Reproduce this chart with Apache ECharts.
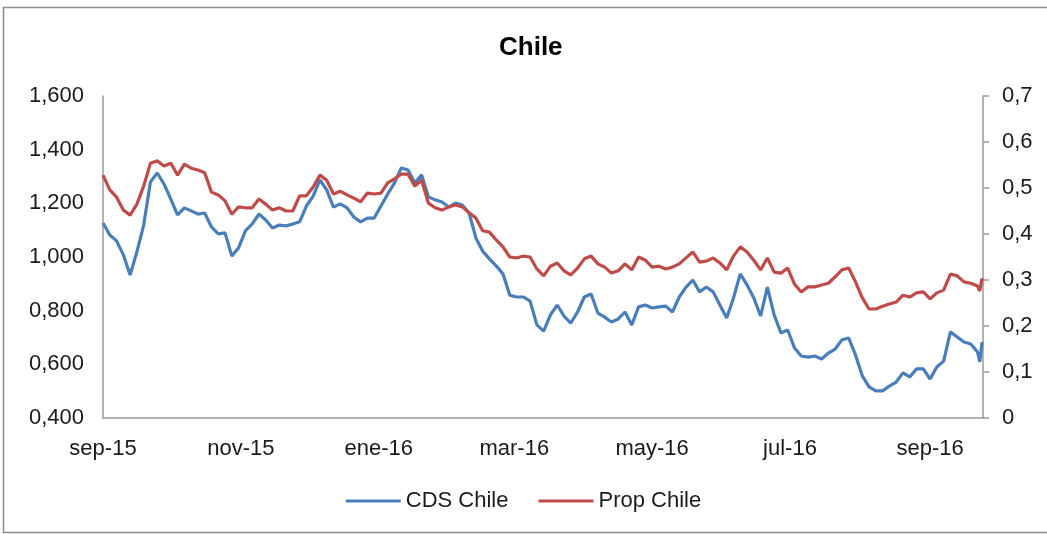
<!DOCTYPE html>
<html>
<head>
<meta charset="utf-8">
<title>Chile</title>
<script src="https://cdn.jsdelivr.net/npm/echarts@6/dist/echarts.min.js"></script>
<style>
  html, body { margin: 0; padding: 0; background: #ffffff; }
  #chart { width: 1047px; height: 534px; }
</style>
</head>
<body>
<div id="chart"></div>
<script>
// Observation dates (every three days, plus the last two sessions)
const dates = [
  '2015-09-01','2015-09-04','2015-09-07','2015-09-10','2015-09-13','2015-09-16','2015-09-19','2015-09-22','2015-09-25','2015-09-28',
  '2015-10-01','2015-10-04','2015-10-07','2015-10-10','2015-10-13','2015-10-16','2015-10-19','2015-10-22','2015-10-25','2015-10-28',
  '2015-10-31','2015-11-03','2015-11-06','2015-11-09','2015-11-12','2015-11-15','2015-11-18','2015-11-21','2015-11-24','2015-11-27',
  '2015-11-30','2015-12-03','2015-12-06','2015-12-09','2015-12-12','2015-12-15','2015-12-18','2015-12-21','2015-12-24','2015-12-27',
  '2015-12-30','2016-01-02','2016-01-05','2016-01-08','2016-01-11','2016-01-14','2016-01-17','2016-01-20','2016-01-23','2016-01-26',
  '2016-01-29','2016-02-01','2016-02-04','2016-02-07','2016-02-10','2016-02-13','2016-02-16','2016-02-19','2016-02-22','2016-02-25',
  '2016-02-28','2016-03-02','2016-03-05','2016-03-08','2016-03-11','2016-03-14','2016-03-17','2016-03-20','2016-03-23','2016-03-26',
  '2016-03-29','2016-04-01','2016-04-04','2016-04-07','2016-04-10','2016-04-13','2016-04-16','2016-04-19','2016-04-22','2016-04-25',
  '2016-04-28','2016-05-01','2016-05-04','2016-05-07','2016-05-10','2016-05-13','2016-05-16','2016-05-19','2016-05-22','2016-05-25',
  '2016-05-28','2016-05-31','2016-06-03','2016-06-06','2016-06-09','2016-06-12','2016-06-15','2016-06-18','2016-06-21','2016-06-24',
  '2016-06-27','2016-06-30','2016-07-03','2016-07-06','2016-07-09','2016-07-12','2016-07-15','2016-07-18','2016-07-21','2016-07-24',
  '2016-07-27','2016-07-30','2016-08-02','2016-08-05','2016-08-08','2016-08-11','2016-08-14','2016-08-17','2016-08-20','2016-08-23',
  '2016-08-26','2016-08-29','2016-09-01','2016-09-04','2016-09-07','2016-09-10','2016-09-13','2016-09-16','2016-09-19','2016-09-22',
  '2016-09-23','2016-09-24'
];

// CDS Chile (left axis)
const cdsChile = [
  1.127,1.082,1.060,1.008,0.933,1.019,1.119,1.280,1.313,1.272,
  1.216,1.157,1.183,1.172,1.160,1.164,1.112,1.086,1.090,1.004,
  1.034,1.097,1.123,1.160,1.138,1.108,1.119,1.116,1.123,1.131,
  1.190,1.227,1.287,1.250,1.186,1.198,1.183,1.149,1.131,1.145,
  1.145,1.190,1.235,1.276,1.332,1.324,1.276,1.306,1.224,1.213,
  1.205,1.186,1.201,1.194,1.164,1.071,1.022,0.993,0.967,0.937,
  0.858,0.851,0.851,0.836,0.747,0.724,0.784,0.821,0.780,0.754,
  0.795,0.851,0.862,0.791,0.776,0.758,0.769,0.795,0.747,0.814,
  0.821,0.810,0.814,0.817,0.795,0.851,0.888,0.914,0.870,0.888,
  0.870,0.821,0.773,0.847,0.937,0.896,0.847,0.780,0.888,0.784,
  0.717,0.728,0.661,0.631,0.627,0.631,0.620,0.642,0.657,0.691,
  0.698,0.635,0.557,0.516,0.501,0.501,0.519,0.534,0.568,0.553,
  0.583,0.583,0.545,0.590,0.612,0.721,0.702,0.683,0.676,0.646,
  0.609,0.683
];

// Prop Chile (right axis)
const propChile = [
  0.528,0.496,0.480,0.452,0.441,0.465,0.504,0.554,0.559,0.548,
  0.554,0.528,0.552,0.543,0.539,0.533,0.491,0.485,0.472,0.443,
  0.459,0.457,0.457,0.476,0.465,0.452,0.457,0.450,0.450,0.483,
  0.483,0.502,0.528,0.517,0.487,0.493,0.485,0.478,0.470,0.489,
  0.487,0.489,0.511,0.520,0.530,0.530,0.504,0.517,0.467,0.457,
  0.452,0.459,0.463,0.459,0.446,0.435,0.407,0.404,0.387,0.372,
  0.350,0.348,0.352,0.350,0.324,0.309,0.330,0.337,0.320,0.311,
  0.326,0.346,0.352,0.335,0.328,0.315,0.320,0.335,0.322,0.350,
  0.343,0.328,0.330,0.324,0.328,0.335,0.348,0.361,0.339,0.341,
  0.348,0.337,0.322,0.352,0.372,0.361,0.343,0.322,0.348,0.317,
  0.315,0.326,0.291,0.274,0.285,0.285,0.289,0.293,0.307,0.322,
  0.326,0.296,0.261,0.237,0.237,0.243,0.248,0.252,0.267,0.263,
  0.272,0.274,0.259,0.272,0.278,0.313,0.309,0.296,0.293,0.287,
  0.276,0.304
];

// Month starts that carry an x-axis label
const monthTicks = ['2015-09-01','2015-11-01','2016-01-01','2016-03-01','2016-05-01','2016-07-01','2016-09-01'];
const monthNames = ['ene','feb','mar','abr','may','jun','jul','ago','sep','oct','nov','dic'];

const FONT = '"Liberation Sans", Arial, sans-serif';
const TEXT = '#1a1a1a';
const AXIS = '#9a9a9a';

const toTime = s => {
  const [y, m, d] = s.split('-').map(Number);
  return new Date(y, m - 1, d).getTime();
};

const chart = echarts.init(document.getElementById('chart'), null, { renderer: 'canvas' });

chart.setOption({
  backgroundColor: '#ffffff',
  animation: false,
  title: {
    text: 'Chile',
    left: 494,
    top: 30,
    textStyle: { fontFamily: FONT, fontSize: 26, fontWeight: 'bold', color: '#000' }
  },
  legend: {
    bottom: 17,
    left: 'center',
    itemWidth: 55,
    itemHeight: 3,
    itemGap: 30,
    icon: 'rect',
    textStyle: { fontFamily: FONT, fontSize: 22, color: TEXT },
    data: ['CDS Chile', 'Prop Chile']
  },
  grid: { left: 103, right: 64, top: 96, bottom: 116, containLabel: false },
  xAxis: {
    // dates are plotted as timestamps on a linear scale
    type: 'value',
    min: toTime('2015-09-01'),
    max: toTime('2016-09-24') + 10 * 3600 * 1000,
    splitLine: { show: false },
    axisTick: { show: false },
    axisLine: { show: true, lineStyle: { color: AXIS, width: 1.5 } },
    axisLabel: {
      customValues: monthTicks.map(toTime),
      hideOverlap: false,
      margin: 20,
      fontFamily: FONT,
      fontSize: 22,
      color: TEXT,
      formatter: v => {
        const d = new Date(v);
        return monthNames[d.getMonth()] + '-' + String(d.getFullYear()).slice(2);
      }
    }
  },
  yAxis: [
    {
      type: 'value',
      position: 'left',
      min: 0.4,
      max: 1.6,
      interval: 0.2,
      splitLine: { show: false },
      axisTick: { show: false },
      axisLine: { show: true, lineStyle: { color: AXIS, width: 1.5 } },
      axisLabel: {
        margin: 19,
        fontFamily: FONT,
        fontSize: 22,
        color: TEXT,
        formatter: v => v.toFixed(3).replace('.', ',')
      }
    },
    {
      type: 'value',
      position: 'right',
      min: 0,
      max: 0.7,
      interval: 0.1,
      splitLine: { show: false },
      axisTick: { show: true, inside: false, length: 6, lineStyle: { color: AXIS, width: 1.5 } },
      axisLine: { show: true, lineStyle: { color: AXIS, width: 1.5 } },
      axisLabel: {
        margin: 19,
        fontFamily: FONT,
        fontSize: 22,
        color: TEXT,
        formatter: v => (v === 0 ? '0' : v.toFixed(1).replace('.', ','))
      }
    }
  ],
  graphic: [
    {
      type: 'rect',
      silent: true,
      shape: { x: 3.5, y: 7.5, width: 1080, height: 525 },
      style: { fill: 'none', stroke: '#8c8c8c', lineWidth: 1.5 }
    }
  ],
  series: [
    {
      name: 'CDS Chile',
      type: 'line',
      yAxisIndex: 0,
      symbol: 'none',
      lineStyle: { color: '#4A7EBB', width: 3.2 },
      itemStyle: { color: '#4A7EBB' },
      data: dates.map((d, i) => [toTime(d), cdsChile[i]])
    },
    {
      name: 'Prop Chile',
      type: 'line',
      yAxisIndex: 1,
      symbol: 'none',
      lineStyle: { color: '#BE4B48', width: 3.2 },
      itemStyle: { color: '#BE4B48' },
      data: dates.map((d, i) => [toTime(d), propChile[i]])
    }
  ]
});
</script>
</body>
</html>
